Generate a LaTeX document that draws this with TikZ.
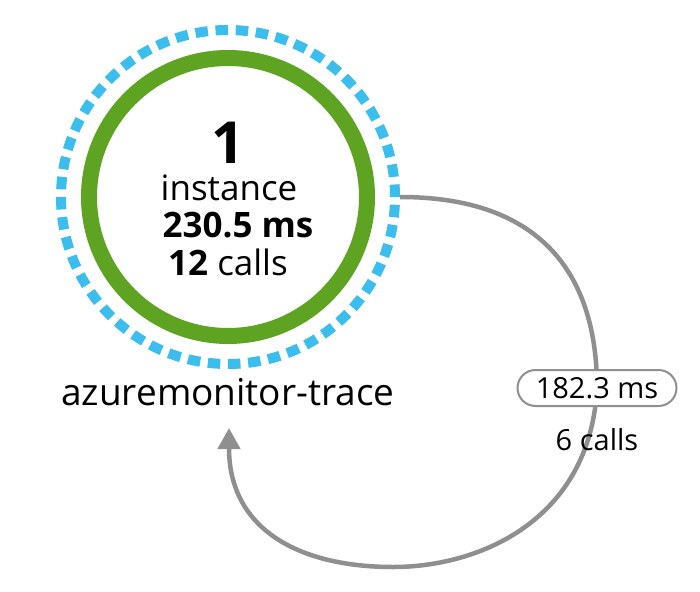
\documentclass[tikz,border=0pt]{standalone}
\usepackage{fontspec}
\setmainfont{Open Sans}
\usetikzlibrary{arrows.meta}
\definecolor{ringgreen}{RGB}{94,163,34}
\definecolor{haloblue}{RGB}{59,189,238}
\definecolor{edgegray}{RGB}{143,143,143}
\tikzset{
  halo/.style={circle, draw=haloblue, line width=10pt, dash pattern=on 12.5pt off 7.68pt, minimum size=334pt, inner sep=0pt},
  ring/.style={circle, draw=ringgreen, line width=16pt, minimum size=278pt, inner sep=0pt},
  txt/.style={anchor=base, inner sep=0pt, font=\fontsize{#1}{#1}\selectfont},
  call/.style={draw=edgegray, line width=4.5pt, -{Triangle[width=22pt,length=21pt]}},
  latency/.style={draw=edgegray, line width=2pt, rounded corners=18pt, fill=white, minimum width=159pt, minimum height=36pt, inner sep=0pt, font=\fontsize{29}{29}\selectfont}
}
\begin{document}
\begin{tikzpicture}[x=1pt, y=-1pt]
    \useasboundingbox (0,0) rectangle (700,591);
    % service bubble
    \node[halo] (halo) at (228,197) {};
    \node[ring] (svc) at (halo.center) {};
    \node[txt=58] (count) at (228,163) {\bfseries 1};
    \node[txt=35] (inst) at (229,200) {instance};
    \node[txt=35] (dur) at (238,237) {\bfseries 230.5 ms};
    \node[txt=35] (calls) at (228,275) {{\bfseries 12} calls};
    \node[txt=37] (name) at (228,405) {azuremonitor-trace};
    % self call
    \coordinate (mid) at (597,388);
    \coordinate (back) at (229,428);
    \draw[call] (halo.east) .. controls (555,197) and (597,290) .. (mid)
        .. controls (590,520) and (480,567) .. (393,567)
        .. controls (300,567) and (229,530) .. (back);
    \node[latency] (lat) at (mid) {182.3 ms};
    \node[txt=29] (ncalls) at (597,450) {6 calls};
\end{tikzpicture}
\end{document}
